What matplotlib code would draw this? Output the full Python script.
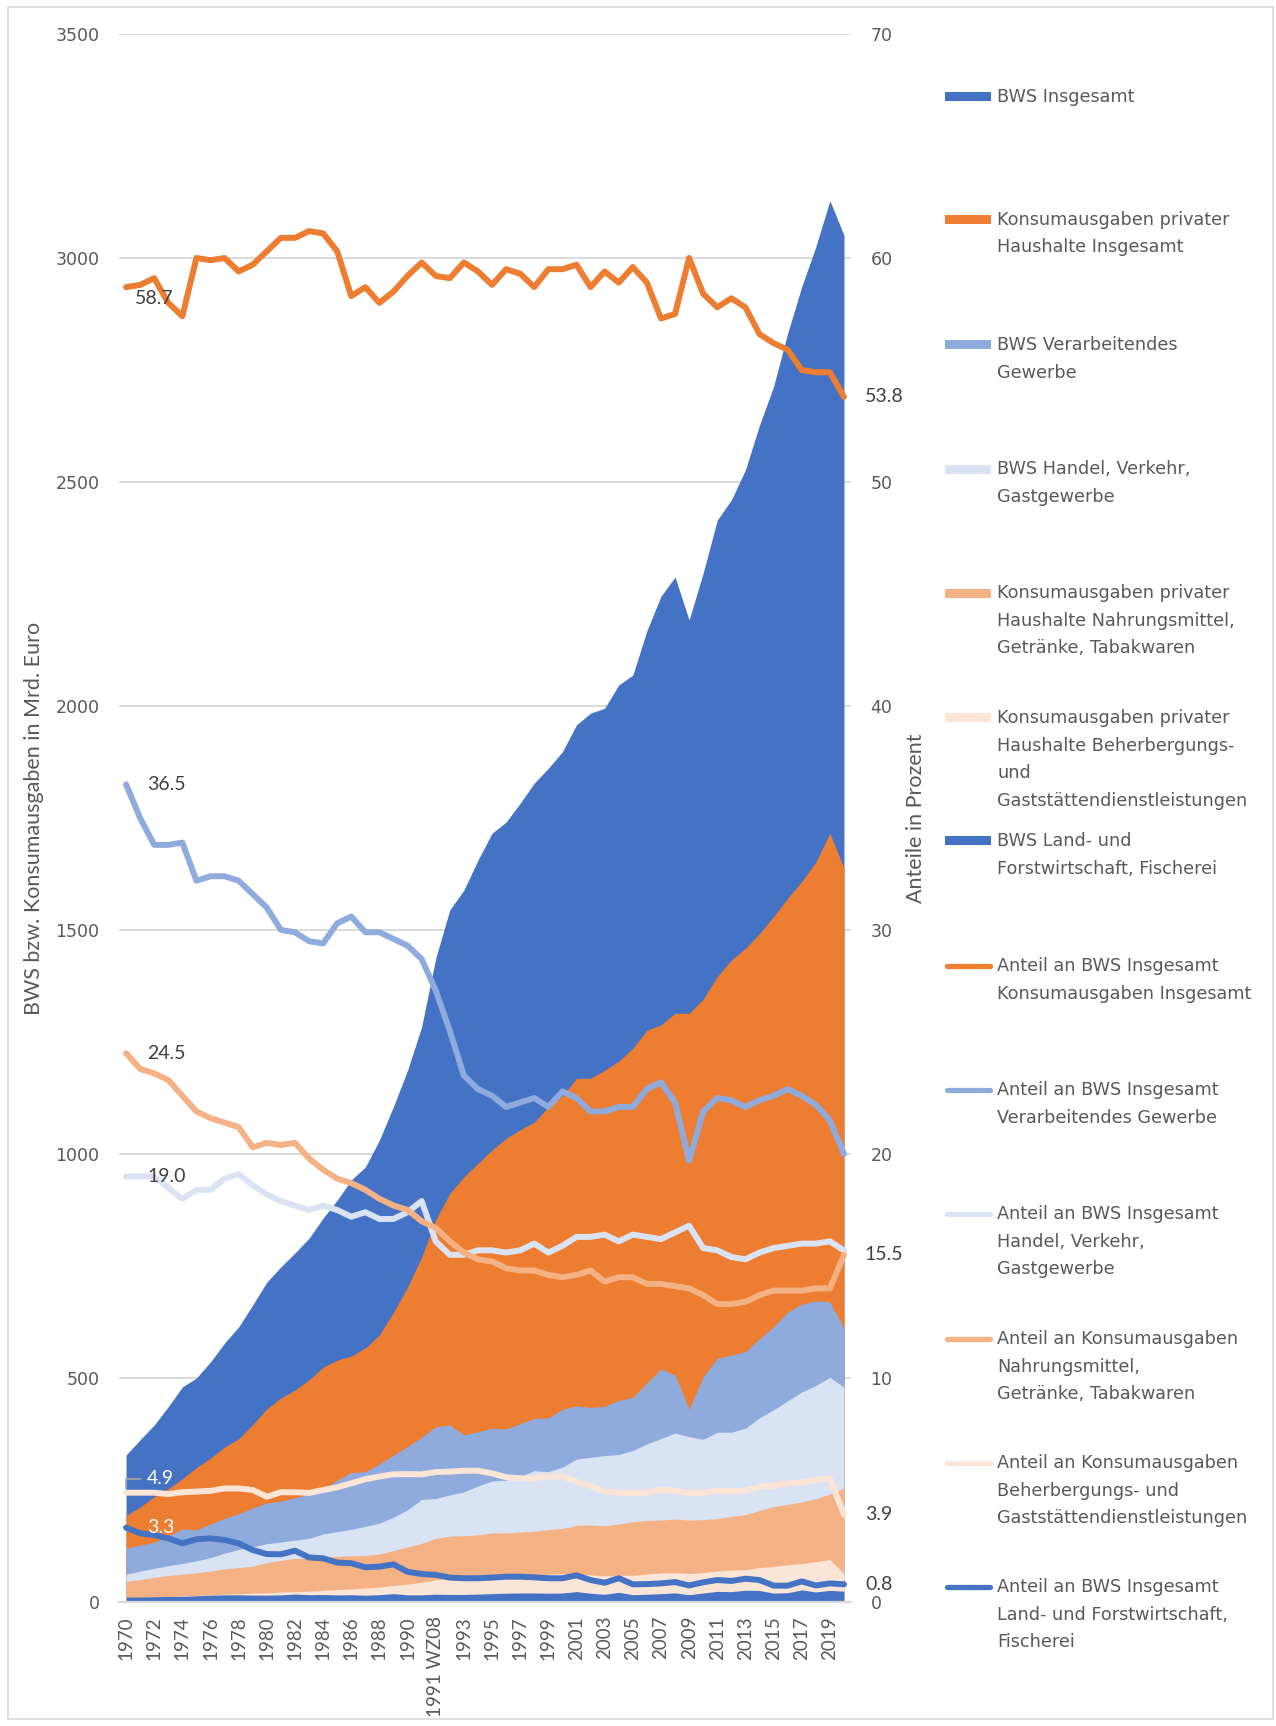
import matplotlib
matplotlib.use('Agg')
import matplotlib.pyplot as plt
from matplotlib.patches import Rectangle
from matplotlib.lines import Line2D

# ---------------- data ----------------
years = [str(y) for y in range(1970, 1992)] + ['1991 WZ08'] + [str(y) for y in range(1992, 2021)]

bws_total = [328, 362, 395, 436, 480, 500, 536, 578, 614, 663,
             714, 748, 779, 812, 857, 897, 942, 971, 1031, 1106,
             1187, 1284, 1437, 1545, 1589, 1656, 1716, 1741, 1783, 1828,
             1861, 1898, 1958, 1984, 1995, 2047, 2069, 2168, 2245, 2288,
             2192, 2297, 2415, 2460, 2527, 2627, 2713, 2832, 2936, 3025,
             3128, 3051]
konsum_total = [193, 212, 235, 253, 275, 300, 321, 346, 364, 396,
                431, 455, 473, 496, 524, 540, 549, 567, 596, 647,
                703, 770, 853, 912, 949, 979, 1009, 1035, 1054, 1071,
                1105, 1130, 1169, 1169, 1187, 1207, 1236, 1276, 1288, 1314,
                1314, 1346, 1396, 1433, 1459, 1492, 1530, 1571, 1608, 1652,
                1716, 1638]
verarb_area = [120, 127, 133, 147, 163, 161, 174, 187, 197, 210,
               221, 225, 233, 240, 252, 272, 289, 291, 308, 328,
               347, 368, 391, 395, 373, 380, 388, 386, 398, 410,
               411, 430, 438, 434, 437, 450, 457, 489, 520, 507,
               430, 503, 544, 551, 559, 588, 614, 647, 665, 672,
               670, 611]
handel_area = [62, 69, 75, 81, 86, 92, 99, 109, 117, 123,
               130, 134, 138, 142, 152, 157, 162, 169, 176, 189,
               206, 229, 231, 239, 246, 259, 270, 272, 280, 293,
               291, 301, 319, 323, 327, 329, 338, 353, 365, 377,
               369, 363, 379, 379, 388, 411, 429, 449, 469, 483,
               502, 479]
nahrung_area = [46, 50, 55, 59, 62, 65, 69, 74, 77, 80,
                88, 93, 97, 98, 101, 102, 103, 104, 107, 115,
                123, 131, 142, 147, 148, 150, 154, 154, 156, 158,
                162, 164, 171, 172, 170, 174, 179, 182, 183, 185,
                183, 184, 186, 191, 195, 204, 213, 218, 223, 231,
                241, 254]
beherb_area = [9.3, 10.3, 11.5, 12.2, 13.5, 14.8, 15.9, 17.5, 18.5, 19.8,
               20.3, 22.3, 23.2, 24.2, 26.2, 27.6, 29.1, 31.1, 33.4, 36.9,
               40.1, 43.9, 49.5, 53.1, 55.6, 57.4, 57.9, 57.6, 58.2, 59.1,
               61.9, 63.3, 62.8, 60.6, 58.5, 58.9, 59.9, 62.3, 64.8, 65.3,
               63.7, 65.7, 69.2, 71.1, 72.4, 76.8, 79.4, 83.3, 85.9, 90.0,
               94.7, 63.9]
land_area = [10.9, 11.1, 11.8, 12.4, 12.6, 14.0, 15.2, 16.0, 16.1, 15.4,
             15.3, 15.9, 17.8, 16.2, 16.7, 15.8, 16.3, 15.1, 16.3, 18.6,
             16.0, 16.0, 17.4, 16.8, 16.8, 17.6, 18.7, 19.7, 20.1, 20.1,
             19.7, 20.1, 23.3, 19.4, 17.2, 21.7, 16.3, 17.3, 18.6, 20.4,
             16.2, 20.2, 23.7, 23.1, 26.3, 25.7, 19.8, 20.7, 27.0, 22.4,
             26.0, 24.1]

konsum_share = [58.7, 58.8, 59.1, 58.0, 57.4, 60.0, 59.9, 60.0, 59.4, 59.7,
                60.3, 60.9, 60.9, 61.2, 61.1, 60.3, 58.3, 58.7, 58.0, 58.5,
                59.2, 59.8, 59.2, 59.1, 59.8, 59.4, 58.8, 59.5, 59.3, 58.7,
                59.5, 59.5, 59.7, 58.7, 59.4, 58.9, 59.6, 58.9, 57.3, 57.5,
                60.0, 58.4, 57.8, 58.2, 57.8, 56.6, 56.2, 55.9, 55.0, 54.9,
                54.9, 53.8]
verarb_share = [36.5, 35.0, 33.8, 33.8, 33.9, 32.2, 32.4, 32.4, 32.2, 31.6,
                31.0, 30.0, 29.9, 29.5, 29.4, 30.3, 30.6, 29.9, 29.9, 29.6,
                29.3, 28.7, 27.3, 25.5, 23.5, 22.9, 22.6, 22.1, 22.3, 22.5,
                22.1, 22.8, 22.5, 21.9, 21.9, 22.1, 22.1, 22.9, 23.2, 22.3,
                19.7, 21.9, 22.5, 22.4, 22.1, 22.4, 22.6, 22.9, 22.6, 22.2,
                21.5, 20.0]
handel_share = [19.0, 19.0, 19.0, 18.5, 18.0, 18.4, 18.4, 18.9, 19.1, 18.6,
                18.2, 17.9, 17.7, 17.5, 17.7, 17.5, 17.2, 17.4, 17.1, 17.1,
                17.4, 17.9, 16.1, 15.5, 15.5, 15.7, 15.7, 15.6, 15.7, 16.0,
                15.6, 15.9, 16.3, 16.3, 16.4, 16.1, 16.4, 16.3, 16.2, 16.5,
                16.8, 15.8, 15.7, 15.4, 15.3, 15.6, 15.8, 15.9, 16.0, 16.0,
                16.1, 15.7]
nahrung_share = [24.5, 23.8, 23.6, 23.3, 22.6, 21.9, 21.6, 21.4, 21.2, 20.3,
                 20.5, 20.4, 20.5, 19.8, 19.3, 18.9, 18.7, 18.4, 18.0, 17.7,
                 17.5, 17.0, 16.7, 16.1, 15.6, 15.3, 15.2, 14.9, 14.8, 14.8,
                 14.6, 14.5, 14.6, 14.8, 14.3, 14.5, 14.5, 14.2, 14.2, 14.1,
                 14.0, 13.7, 13.3, 13.3, 13.4, 13.7, 13.9, 13.9, 13.9, 14.0,
                 14.0, 15.5]
beherb_share = [4.88, 4.88, 4.88, 4.82, 4.90, 4.93, 4.96, 5.07, 5.07, 5.00,
                4.70, 4.90, 4.90, 4.87, 5.00, 5.12, 5.30, 5.48, 5.60, 5.70,
                5.71, 5.70, 5.80, 5.82, 5.86, 5.86, 5.74, 5.57, 5.52, 5.52,
                5.60, 5.60, 5.37, 5.18, 4.93, 4.88, 4.85, 4.88, 5.03, 4.97,
                4.85, 4.88, 4.96, 4.96, 4.96, 5.15, 5.19, 5.30, 5.34, 5.45,
                5.52, 3.90]
land_share = [3.32, 3.07, 2.99, 2.84, 2.62, 2.80, 2.84, 2.77, 2.62, 2.32,
              2.14, 2.13, 2.29, 1.99, 1.95, 1.76, 1.73, 1.55, 1.58, 1.68,
              1.35, 1.25, 1.21, 1.09, 1.06, 1.06, 1.09, 1.13, 1.13, 1.10,
              1.06, 1.06, 1.19, 0.98, 0.86, 1.06, 0.79, 0.80, 0.83, 0.89,
              0.74, 0.88, 0.98, 0.94, 1.04, 0.98, 0.73, 0.73, 0.92, 0.74,
              0.83, 0.79]

area_series = [
    ("BWS Insgesamt", bws_total, "#4472C4"),
    ("Konsumausgaben privater\nHaushalte Insgesamt", konsum_total, "#ED7D31"),
    ("BWS Verarbeitendes\nGewerbe", verarb_area, "#8FAADC"),
    ("BWS Handel, Verkehr,\nGastgewerbe", handel_area, "#DAE3F3"),
    ("Konsumausgaben privater\nHaushalte Nahrungsmittel,\nGetränke, Tabakwaren", nahrung_area, "#F4B183"),
    ("Konsumausgaben privater\nHaushalte Beherbergungs-\nund\nGaststättendienstleistungen", beherb_area, "#FBE5D6"),
    ("BWS Land- und\nForstwirtschaft, Fischerei", land_area, "#4472C4"),
]
line_series = [
    ("Anteil an BWS Insgesamt\nKonsumausgaben Insgesamt", konsum_share, "#ED7D31"),
    ("Anteil an BWS Insgesamt\nVerarbeitendes Gewerbe", verarb_share, "#8FAADC"),
    ("Anteil an BWS Insgesamt\nHandel, Verkehr,\nGastgewerbe", handel_share, "#DAE3F3"),
    ("Anteil an Konsumausgaben\nNahrungsmittel,\nGetränke, Tabakwaren", nahrung_share, "#F4B183"),
    ("Anteil an Konsumausgaben\nBeherbergungs- und\nGaststättendienstleistungen", beherb_share, "#FBE5D6"),
    ("Anteil an BWS Insgesamt\nLand- und Forstwirtschaft,\nFischerei", land_share, "#4472C4"),
]

# ---------------- figure ----------------
W, H = 1276, 1726
fig = plt.figure(figsize=(W / 100, H / 100), dpi=100)
fig.patch.set_facecolor('white')

def fx(px):
    return px / W

def fy(py):
    return 1 - py / H

TICK = '#595959'
LBL = '#404040'
GRID = '#D9D9D9'
NARROW = ['Lato', 'DejaVu Sans']

ax = fig.add_axes([fx(119), fy(1602), fx(851) - fx(119), (1602 - 34) / H])
x = list(range(len(years)))

for name, vals, col in area_series:
    ax.fill_between(x, 0, vals, color=col, lw=0)

ax.set_xlim(-0.5, len(years) - 0.5)
ax.set_ylim(0, 3500)
ax.set_yticks(range(0, 3501, 500))
ax.grid(axis='y', color=GRID, lw=1.4)
ax.set_axisbelow(True)
for s in ['top', 'left', 'right']:
    ax.spines[s].set_visible(False)
ax.spines['bottom'].set_color(GRID)
ax.spines['bottom'].set_linewidth(1.6)
ax.tick_params(axis='y', length=0, pad=14, labelsize=12.5, labelcolor=TICK)
ax.set_xticks(x[::2])
ax.set_xticklabels([years[i] for i in x[::2]], rotation=90,
                   family=NARROW, fontsize=13.5, color=TICK)
ax.tick_params(axis='x', length=0, pad=10)
ax.set_ylabel("BWS bzw. Konsumausgaben in Mrd. Euro", family=NARROW, fontsize=15.5, color=TICK)
ax.yaxis.set_label_coords((44 - 119) / 732, 0.5)

ax2 = ax.twinx()
for name, vals, col in line_series:
    ax2.plot(x, vals, color=col, lw=4.3, solid_joinstyle='round', solid_capstyle='round')
ax2.set_ylim(0, 70)
ax2.set_yticks(range(0, 71, 10))
for s in ax2.spines.values():
    s.set_visible(False)
ax2.tick_params(axis='y', length=0, pad=14, labelsize=12.5, labelcolor=TICK)
ax2.set_ylabel("Anteile in Prozent", family=NARROW, fontsize=15.5, color=TICK)
ax2.yaxis.set_label_coords((906 - 119) / 732, 0.5)

# ---------------- data labels ----------------
lab_kw = dict(textcoords='offset points', ha='left', va='center', fontsize=14,
              family=['Lato', 'DejaVu Sans'])
off = 21 * 0.72
last = len(years) - 1
ax2.annotate(f"{konsum_share[0]:.1f}", xy=(0, konsum_share[0]), xytext=(9 * 0.72, -11 * 0.72), color=LBL, **lab_kw)
ax2.annotate(f"{verarb_share[0]:.1f}", xy=(0, verarb_share[0]), xytext=(off, 0), color=LBL, **lab_kw)
ax2.annotate(f"{nahrung_share[0]:.1f}", xy=(0, nahrung_share[0]), xytext=(off, 0), color=LBL, **lab_kw)
ax2.annotate(f"{handel_share[0]:.1f}", xy=(0, handel_share[0]), xytext=(off, 0), color=LBL, **lab_kw)
ax2.annotate(f"{beherb_share[0]:.1f}", xy=(0, beherb_share[0]), xytext=(off, 14 * 0.72), color='white',
             arrowprops=dict(arrowstyle='-', color='#A6A6A6', lw=1.2, shrinkA=2, shrinkB=3,
                             connectionstyle='angle,angleA=0,angleB=90,rad=0'), **lab_kw)
ax2.annotate(f"{land_share[0]:.1f}", xy=(0, land_share[0]), xytext=(off, 0), color='white', **lab_kw)
ax2.annotate(f"{konsum_share[last]:.1f}", xy=(last, konsum_share[last]), xytext=(off, 0), color=LBL, **lab_kw)
ax2.annotate(f"{nahrung_share[last]:.1f}", xy=(last, nahrung_share[last]), xytext=(off, 0), color=LBL, **lab_kw)
ax2.annotate(f"{beherb_share[last]:.1f}", xy=(last, beherb_share[last]), xytext=(off, 0), color=LBL, **lab_kw)
ax2.annotate(f"{land_share[last]:.1f}", xy=(last, land_share[last]), xytext=(off, 0), color=LBL, **lab_kw)

# ---------------- legend (manual, Excel style) ----------------
leg_y = [97, 220, 345, 469, 593, 718, 841, 966, 1090, 1214, 1339, 1463, 1587]
line_gap = 27.5
entries = [(n, c, 'area') for n, v, c in area_series] + [(n, c, 'line') for n, v, c in line_series]
for (name, col, kind), y0 in zip(entries, leg_y):
    if kind == 'area':
        fig.patches.append(Rectangle((fx(945), fy(y0 + 4.5)), fx(991) - fx(945), 9 / H,
                                     transform=fig.transFigure, facecolor=col, edgecolor='none'))
    else:
        fig.lines.append(Line2D([fx(947), fx(990)], [fy(y0), fy(y0)], transform=fig.transFigure,
                                color=col, lw=3.8, solid_capstyle='round'))
    for k, ln in enumerate(name.split('\n')):
        fig.text(fx(997), fy(y0 + k * line_gap), ln, ha='left', va='center',
                 fontsize=12.7, color=TICK, family='DejaVu Sans')

# outer border
fig.patches.append(Rectangle((fx(8), fy(1719)), fx(1273) - fx(8), (1719 - 7) / H,
                             transform=fig.transFigure, fill=False, edgecolor=GRID, lw=1.2))

fig.savefig('out.png', dpi=100, facecolor='white')
